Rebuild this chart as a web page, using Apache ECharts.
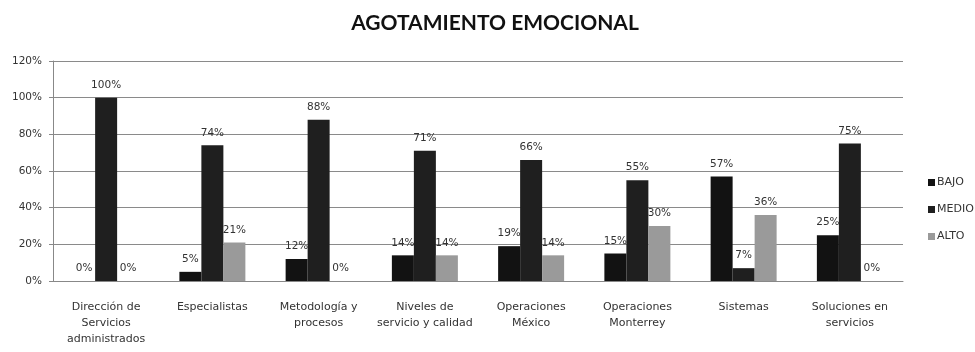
<!DOCTYPE html>
<html>
<head>
<meta charset="utf-8">
<script src="https://cdn.jsdelivr.net/npm/echarts@6/dist/echarts.min.js"></script>
<style>
  html, body { margin: 0; padding: 0; background: #fff; }
  #chart { width: 975px; height: 352px; }
</style>
</head>
<body>
<div id="chart"></div>
<script>
// Agotamiento emocional por área (porcentaje de personas en cada nivel)
const categories = [
  'Dirección de\nServicios\nadministrados',
  'Especialistas',
  'Metodología y\nprocesos',
  'Niveles de\nservicio y calidad',
  'Operaciones\nMéxico',
  'Operaciones\nMonterrey',
  'Sistemas',
  'Soluciones en\nservicios'
];
const bajo  = [0, 5, 12, 14, 19, 15, 57, 25];
const medio = [100, 74, 88, 71, 66, 55, 7, 75];
const alto  = [0, 21, 0, 14, 14, 30, 36, 0];
const yTicks = [0, 20, 40, 60, 80, 100, 120];

const TITLE_FONT = 'Lato, "Open Sans", sans-serif';
const FONT = '"DejaVu Sans", sans-serif';

const labelStyle = {
  show: true,
  position: 'top',
  distance: 7,
  formatter: p => p.value + '%',
  color: '#333',
  fontSize: 10.5,
  fontFamily: FONT
};

function barSeries(name, data, color) {
  return {
    name: name,
    type: 'bar',
    data: data,
    barWidth: 22,
    barGap: '0%',
    itemStyle: { color: color },
    label: labelStyle
  };
}

const chart = echarts.init(document.getElementById('chart'), null, { renderer: 'canvas' });
chart.setOption({
  animation: false,
  backgroundColor: '#fff',
  title: {
    text: 'AGOTAMIENTO EMOCIONAL',
    left: 490,
    textAlign: 'center',
    top: 8,
    textStyle: { fontFamily: TITLE_FONT, fontWeight: 'bold', fontSize: 21, color: '#111' }
  },
  legend: {
    orient: 'vertical',
    left: 923,
    top: 172,
    itemWidth: 7,
    itemHeight: 7,
    itemGap: 16,
    icon: 'rect',
    textStyle: { fontFamily: FONT, fontSize: 11, color: '#333', padding: [0, 0, 0, -3] },
    data: ['BAJO', 'MEDIO', 'ALTO']
  },
  grid: { left: 53, right: 72, top: 61, bottom: 71, containLabel: false },
  xAxis: {
    type: 'category',
    data: categories,
    axisLine: { lineStyle: { color: '#888' } },
    axisTick: { show: false },
    axisLabel: {
      interval: 0,
      margin: 18,
      lineHeight: 16,
      fontFamily: FONT,
      fontSize: 11,
      color: '#333'
    }
  },
  yAxis: {
    type: 'value',
    min: yTicks[0],
    max: yTicks[yTicks.length - 1],
    interval: 20,
    axisLine: { show: true, lineStyle: { color: '#888' } },
    axisTick: { show: true, length: 4, lineStyle: { color: '#888' } },
    axisLabel: {
      formatter: v => v + '%',
      fontFamily: FONT,
      fontSize: 10.5,
      color: '#333',
      margin: 11
    },
    splitLine: { lineStyle: { color: '#8a8a8a', width: 1 } }
  },
  series: [
    barSeries('BAJO', bajo, '#121212'),
    barSeries('MEDIO', medio, '#1f1f1f'),
    barSeries('ALTO', alto, '#9a9a9a')
  ]
});
</script>
</body>
</html>
